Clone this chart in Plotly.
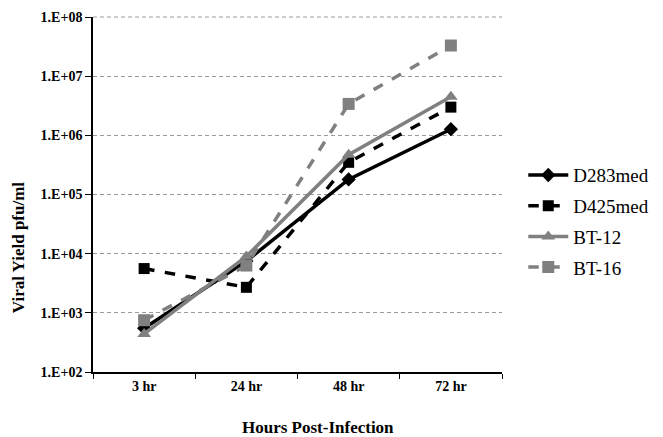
import plotly.graph_objects as go

categories = ["3 hr", "24 hr", "48 hr", "72 hr"]
d283med = [550, 7500, 1.8e5, 1.27e6]
d425med = [5600, 2700, 3.5e5, 3.0e6]
bt12 = [440, 9000, 4.7e5, 4.5e6]
bt16 = [750, 6300, 3.4e6, 3.3e7]
y_ticks = [1e2, 1e3, 1e4, 1e5, 1e6, 1e7, 1e8]
y_tick_labels = ["1.E+02", "1.E+03", "1.E+04", "1.E+05", "1.E+06", "1.E+07", "1.E+08"]

serif = "Liberation Serif"

fig = go.Figure()
series = [
    ("D283med", d283med, "#000000", "solid", "diamond", 11),
    ("D425med", d425med, "#000000", "dash", "square", 11),
    ("BT-12", bt12, "#808080", "solid", "triangle-up", 12),
    ("BT-16", bt16, "#808080", "dash", "square", 12),
]
for name, vals, color, dash, sym, size in series:
    fig.add_trace(go.Scatter(
        x=categories, y=vals, name=name, mode="lines+markers", legendgroup=name,
        line=dict(color=color, width=3.5, dash=dash),
        marker=dict(symbol=sym, size=size, color=color),
    ))

fig.update_layout(
    width=655, height=429,
    margin=dict(l=85, r=148, t=9, b=65),
    paper_bgcolor="white", plot_bgcolor="white",
    font=dict(family=serif, color="black"),
    legend=dict(x=1.052, y=0.608, xanchor="left", yanchor="top",
                font=dict(size=19, family=serif, color="black"),
                tracegroupgap=3, itemwidth=40),
    showlegend=True,
    annotations=[
        dict(text="<b>Hours Post-Infection</b>", xref="paper", yref="paper",
             x=0.55, y=-0.155, xanchor="center", yanchor="middle", showarrow=False,
             font=dict(size=17, family=serif, color="black")),
        dict(text="<b>Viral Yield pfu/ml</b>", xref="paper", yref="paper",
             x=-0.183, y=0.352, xanchor="center", yanchor="middle", showarrow=False,
             textangle=-90, font=dict(size=17, family=serif, color="black")),
    ],
    shapes=[
        dict(type="line", xref="paper", yref="paper", x0=0, x1=1, y0=1, y1=1,
             line=dict(color="#9a9a9a", width=1, dash="4px,3px"), layer="below"),
    ],
)
fig.update_xaxes(
    type="category", tickson="boundaries", ticks="outside", ticklen=5,
    tickcolor="black", showline=True, linecolor="black", linewidth=1.5,
    showgrid=False, tickfont=dict(size=14, family=serif, color="black", weight="bold"),
    range=[-0.5, 3.5], automargin=False,
)
fig.update_yaxes(
    type="log", range=[2, 8.0005], tickvals=y_ticks, ticktext=y_tick_labels,
    ticks="outside", ticklen=6, tickcolor="black", showline=True, linecolor="black",
    linewidth=1.5, showgrid=True, gridcolor="#9a9a9a", griddash="4px,3px", gridwidth=1,
    tickfont=dict(size=14, family=serif, color="black", weight="bold"),
    zeroline=False, automargin=False, ticklabeloverflow="allow",
)

fig.write_html("out.html")
